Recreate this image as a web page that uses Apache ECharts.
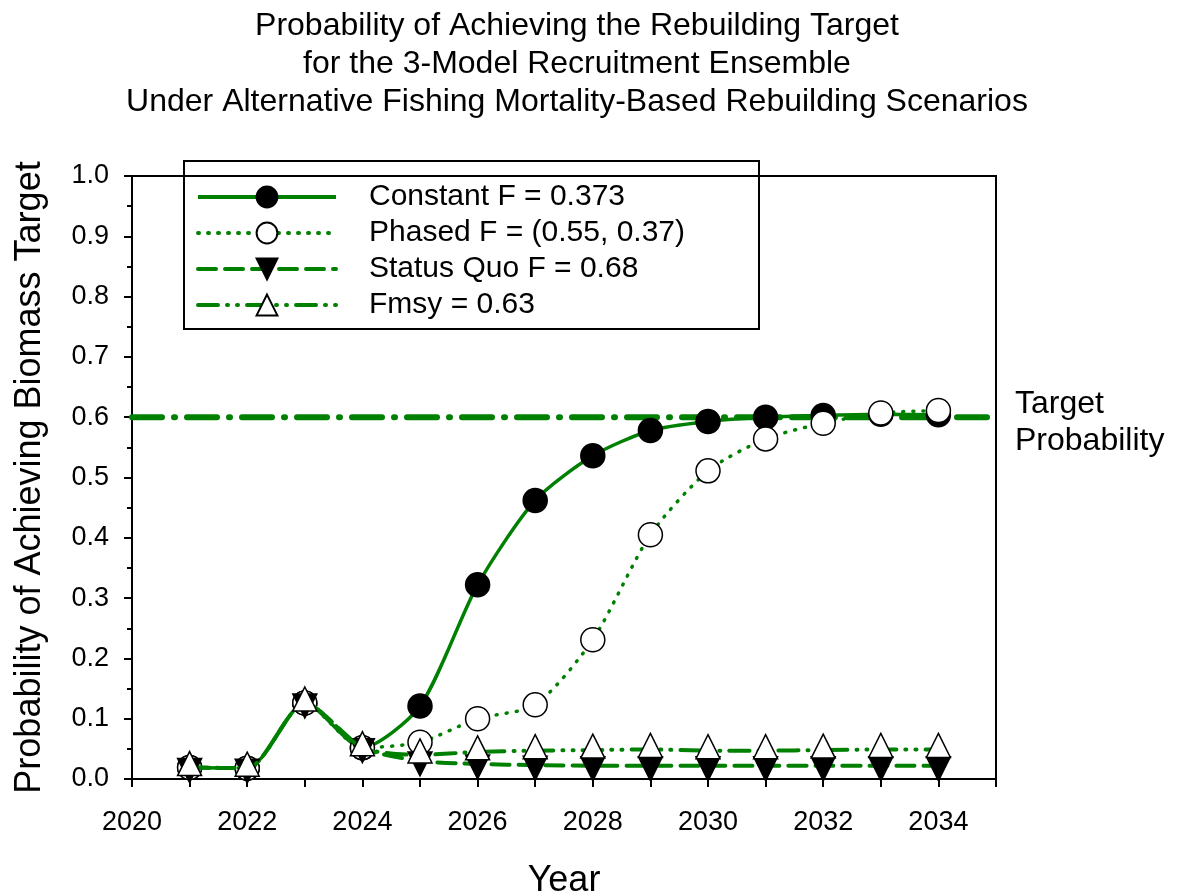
<!DOCTYPE html>
<html>
<head>
<meta charset="utf-8">
<script src="https://cdn.jsdelivr.net/npm/echarts@6/dist/echarts.min.js"></script>
<style>
  html, body { margin: 0; padding: 0; background: #fff; }
  #chart { width: 1177px; height: 896px; }
</style>
</head>
<body>
<div id="chart"></div>
<script>
// data
var years = [2021, 2022, 2023, 2024, 2025, 2026, 2027, 2028, 2029, 2030, 2031, 2032, 2033, 2034];
var constantF = [0.019, 0.018, 0.126, 0.052, 0.121, 0.322, 0.462, 0.536, 0.578, 0.593, 0.600, 0.603, 0.605, 0.604];
var phasedF   = [0.019, 0.018, 0.126, 0.052, 0.061, 0.100, 0.123, 0.231, 0.405, 0.511, 0.564, 0.590, 0.607, 0.611];
var statusQuo = [0.019, 0.018, 0.126, 0.052, 0.030, 0.025, 0.023, 0.022, 0.022, 0.022, 0.022, 0.022, 0.022, 0.022];
var fmsy      = [0.019, 0.018, 0.126, 0.052, 0.040, 0.045, 0.047, 0.048, 0.049, 0.047, 0.047, 0.048, 0.049, 0.049];
var targetProb = 0.6;
var xRange = [2020, 2035];

var green = '#008000';
var font = '"Liberation Sans", Arial, sans-serif';

function pairs(vals) {
  return years.map(function (y, i) { return [y, vals[i]]; });
}

var myChart = echarts.init(document.getElementById('chart'));

var option = {
  backgroundColor: '#fff',
  animation: false,
  textStyle: { fontFamily: font, color: '#000' },
  title: {
    text: 'Probability of Achieving the Rebuilding Target\nfor the 3-Model Recruitment Ensemble\nUnder Alternative Fishing Mortality-Based Rebuilding Scenarios',
    left: 572,
    top: 2,
    textAlign: 'center',
    textStyle: { fontFamily: font, fontSize: 32, fontWeight: 'normal', lineHeight: 38, color: '#000' }
  },
  grid: {
    left: 132, right: 181, top: 176, bottom: 117,
    outerBoundsMode: 'none',
    containLabel: false,
    show: true, borderColor: '#000', borderWidth: 2, backgroundColor: 'transparent'
  },
  legend: {
    orient: 'vertical',
    left: 196,
    top: 182,
    itemWidth: 138,
    itemHeight: 26,
    itemGap: 6,
    padding: 0,
    data: ['Constant F = 0.373', 'Phased F = (0.55, 0.37)', 'Status Quo F = 0.68', 'Fmsy = 0.63'],
    lineStyle: { width: 4 },
    textStyle: { fontFamily: font, fontSize: 30, lineHeight: 30, color: '#000', padding: [0, 0, 0, 28] }
  },
  graphic: [
    {
      type: 'rect', left: 183, top: 160, z: 50,
      shape: { width: 575, height: 168 },
      style: { fill: 'transparent', stroke: '#000', lineWidth: 2 }
    },
    {
      type: 'text', left: 1015, top: 386,
      style: { text: 'Target\nProbability', font: '32px ' + font, fill: '#000', lineHeight: 37 }
    }
  ],
  xAxis: {
    type: 'value',
    min: xRange[0], max: xRange[1], interval: 1,
    name: 'Year',
    nameLocation: 'middle',
    nameGap: 84,
    nameTextStyle: { fontFamily: font, fontSize: 36, color: '#000' },
    axisLine: { lineStyle: { color: '#000', width: 2 } },
    axisTick: { show: true, inside: false, length: 8, lineStyle: { color: '#000', width: 2 } },
    axisLabel: {
      margin: 30, fontSize: 27, fontFamily: font, color: '#000',
      formatter: function (v) { return v % 2 === 0 ? String(v) : ''; }
    },
    splitLine: { show: false }
  },
  yAxis: {
    type: 'value',
    min: 0, max: 1, interval: 0.1,
    name: 'Probability of Achieving Biomass Target',
    nameLocation: 'middle',
    nameGap: 84,
    nameTextStyle: { fontFamily: font, fontSize: 36, color: '#000' },
    axisLine: { show: true, lineStyle: { color: '#000', width: 2 } },
    axisTick: { show: true, inside: false, length: 8, lineStyle: { color: '#000', width: 2 } },
    minorTick: { show: true, splitNumber: 2, length: 5, lineStyle: { color: '#000', width: 2 } },
    axisLabel: {
      margin: 23, fontSize: 27, fontFamily: font, color: '#000',
      formatter: function (v) { return v.toFixed(1); }
    },
    splitLine: { show: false }
  },
  series: [
    {
      name: 'Target',
      type: 'line',
      data: [[xRange[0], targetProb], [xRange[1], targetProb]],
      symbol: 'none',
      z: 1,
      lineStyle: { color: green, width: 6, type: [30, 12, 1, 12], cap: 'round' }
    },
    {
      name: 'Constant F = 0.373',
      type: 'line',
      data: pairs(constantF),
      smooth: 0.25,
      z: 2,
      symbol: 'circle', symbolSize: 24,
      itemStyle: { color: '#000', borderColor: '#000', borderWidth: 1.5 },
      lineStyle: { color: green, width: 3.5 }
    },
    {
      name: 'Phased F = (0.55, 0.37)',
      type: 'line',
      data: pairs(phasedF),
      smooth: 0.25,
      z: 3,
      symbol: 'circle', symbolSize: 24,
      itemStyle: { color: '#fff', borderColor: '#000', borderWidth: 1.5 },
      lineStyle: { color: green, width: 3.5, type: [1, 9], cap: 'round' }
    },
    {
      name: 'Status Quo F = 0.68',
      type: 'line',
      data: pairs(statusQuo),
      smooth: 0.25,
      z: 4,
      symbol: 'triangle', symbolSize: 24, symbolRotate: 180, symbolOffset: [0, 3],
      itemStyle: { color: '#000', borderColor: '#000', borderWidth: 1.5 },
      lineStyle: { color: green, width: 4, type: [18, 9], cap: 'round' }
    },
    {
      name: 'Fmsy = 0.63',
      type: 'line',
      data: pairs(fmsy),
      smooth: 0.25,
      z: 5,
      symbol: 'triangle', symbolSize: 24, symbolOffset: [0, -4],
      itemStyle: { color: '#fff', borderColor: '#000', borderWidth: 1.5 },
      lineStyle: { color: green, width: 4, type: [20, 9, 1, 9, 1, 9], cap: 'round' }
    }
  ]
};

myChart.setOption(option);
</script>
</body>
</html>
